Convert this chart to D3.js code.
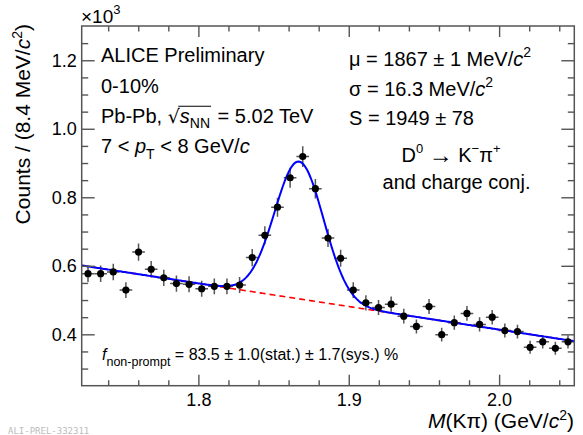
<!DOCTYPE html>
<html><head><meta charset="utf-8">
<script src="https://cdn.jsdelivr.net/npm/d3@7"></script>
<style>
body{margin:0;background:#fff;}
svg{display:block;font-family:"Liberation Sans",Arial,Helvetica,sans-serif;}
svg text{white-space:pre;}
</style>
</head><body><svg id="c" width="583" height="435"></svg>
<script>
// ---- data (counts per bin, in units of 10^3) ----
const histLow = 1.7224;      // GeV/c^2, lower edge of first bin
const binWidth = 0.0084;     // GeV/c^2
const counts = [0.577,0.577,0.582,0.529,0.640,0.590,0.565,0.548,0.546,0.533,
                0.540,0.540,0.544,0.624,0.689,0.771,0.857,0.919,0.825,0.681,
                0.622,0.529,0.492,0.478,0.488,0.453,0.423,0.481,0.399,0.434,
                0.461,0.429,0.450,0.411,0.408,0.362,0.378,0.359,0.378];
const xTicks = [1.8, 1.9, 2.0];
const yTicks = [0.4, 0.6, 0.8, 1.0, 1.2];
// fit parameters
const fitMean = 1.867, fitSigma = 0.0163, fitSignal = 1949;
const bgLowVal = 0.601, bgHighVal = 0.380;

// ---- layout ----
const W = 583, H = 435;
const L = 81.7, R = 574.3, T = 26, B = 385.7;
const nBins = counts.length;
const histHigh = histLow + nBins * binWidth;
const x = d3.scaleLinear().domain([histLow, histHigh]).range([L, R]);
const y = d3.scaleLinear().domain([0.25, 1.3]).range([B, T]);
const svg = d3.select("#c");
svg.append("rect").attr("width", W).attr("height", H).attr("fill", "#fff");

const pts = counts.map((v, i) => ({
  m: histLow + (i + 0.5) * binWidth,
  v: v,
  e: Math.sqrt(v * 1000) / 1000
}));

// fit functions
const bgSlope = (bgHighVal - bgLowVal) / (histHigh - histLow);
const bg = m => bgLowVal + bgSlope * (m - histLow);
const amp = fitSignal / 1000 * binWidth / (Math.sqrt(2 * Math.PI) * fitSigma);
const total = m => bg(m) + amp * Math.exp(-0.5 * Math.pow((m - fitMean) / fitSigma, 2));
const grid = d3.range(0, 401).map(k => histLow + (histHigh - histLow) * k / 400);

const plot = svg.append("g");
const clip = svg.append("clipPath").attr("id", "fr");
clip.append("rect").attr("x", L).attr("y", T).attr("width", R - L).attr("height", B - T);
plot.attr("clip-path", "url(#fr)");

// error bars
const eb = plot.append("g").attr("stroke", "#555").attr("stroke-width", 1.5);
eb.selectAll("line.v").data(pts).enter().append("line")
  .attr("x1", d => x(d.m)).attr("x2", d => x(d.m))
  .attr("y1", d => y(d.v - d.e)).attr("y2", d => y(d.v + d.e));
eb.selectAll("line.h").data(pts).enter().append("line")
  .attr("x1", d => x(d.m - binWidth / 2)).attr("x2", d => x(d.m + binWidth / 2))
  .attr("y1", d => y(d.v)).attr("y2", d => y(d.v));

// background (dashed red) and total fit (blue)
plot.append("path").datum(grid)
  .attr("d", d3.line().x(m => x(m)).y(m => y(bg(m))))
  .attr("fill", "none").attr("stroke", "#ff0000").attr("stroke-width", 1.6)
  .attr("stroke-dasharray", "6,4");
plot.append("path").datum(grid)
  .attr("d", d3.line().x(m => x(m)).y(m => y(total(m))))
  .attr("fill", "none").attr("stroke", "#0000ff").attr("stroke-width", 2);

// markers
plot.selectAll("circle").data(pts).enter().append("circle")
  .attr("cx", d => x(d.m)).attr("cy", d => y(d.v)).attr("r", 3.6).attr("fill", "#000");

// ---- axes ----
const axCol = "#555";
const xMinor = d3.range(1.74, 2.05, 0.02).filter(v => !xTicks.some(t => Math.abs(t - v) < 1e-6));
const yMinor = d3.range(0.3, 1.3, 0.05).filter(v => !yTicks.some(t => Math.abs(t - v) < 1e-6));

function styleAxis(g) {
  g.select(".domain").remove();
  g.selectAll("line").attr("stroke", axCol).attr("stroke-width", 1.4);
  g.selectAll("text").attr("font-size", 18).attr("fill", "#000")
    .style("font-family", '"Liberation Sans",Arial,sans-serif');
}
// bottom
svg.append("g").attr("transform", `translate(0,${B})`)
  .call(d3.axisBottom(x).tickValues(xTicks).tickFormat(d3.format(".1f")).tickSizeInner(-11).tickSizeOuter(0).tickPadding(8))
  .call(styleAxis);
svg.append("g").attr("transform", `translate(0,${B})`)
  .call(d3.axisBottom(x).tickValues(xMinor).tickFormat("").tickSizeInner(-5.5).tickSizeOuter(0))
  .call(styleAxis);
// top
svg.append("g").attr("transform", `translate(0,${T})`)
  .call(d3.axisTop(x).tickValues(xTicks).tickFormat("").tickSizeInner(-11).tickSizeOuter(0))
  .call(styleAxis);
svg.append("g").attr("transform", `translate(0,${T})`)
  .call(d3.axisTop(x).tickValues(xMinor).tickFormat("").tickSizeInner(-5.5).tickSizeOuter(0))
  .call(styleAxis);
// left
svg.append("g").attr("transform", `translate(${L},0)`)
  .call(d3.axisLeft(y).tickValues(yTicks).tickFormat(d3.format(".1f")).tickSizeInner(-13).tickSizeOuter(0).tickPadding(5))
  .call(styleAxis);
svg.append("g").attr("transform", `translate(${L},0)`)
  .call(d3.axisLeft(y).tickValues(yMinor).tickFormat("").tickSizeInner(-6.5).tickSizeOuter(0))
  .call(styleAxis);
// right
svg.append("g").attr("transform", `translate(${R},0)`)
  .call(d3.axisRight(y).tickValues(yTicks).tickFormat("").tickSizeInner(-13).tickSizeOuter(0))
  .call(styleAxis);
svg.append("g").attr("transform", `translate(${R},0)`)
  .call(d3.axisRight(y).tickValues(yMinor).tickFormat("").tickSizeInner(-6.5).tickSizeOuter(0))
  .call(styleAxis);
// frame
svg.append("rect").attr("x", L).attr("y", T).attr("width", R - L).attr("height", B - T)
  .attr("fill", "none").attr("stroke", axCol).attr("stroke-width", 1.5);

// ---- rich text helper ----
function rich(parent, px, py, parts, anchor, base) {
  const g = parent.append("g");
  let cx = 0; const placed = [];
  parts.forEach(p => {
    if (p.gap) cx += p.gap;
    if (p.t === undefined) return;
    const size = p.s || base;
    const t = g.append("text").attr("x", cx).attr("y", p.dy || 0)
      .attr("xml:space", "preserve")
      .attr("font-size", size).attr("fill", p.fill || "#000")
      .style("font-style", p.it ? "italic" : "normal").text(p.t);
    if (p.ff) t.style("font-family", p.ff);
    const w = t.node().getComputedTextLength();
    placed.push({ x0: cx, x1: cx + w, p: p, size: size });
    cx += w;
  });
  const shift = anchor === "middle" ? -cx / 2 : anchor === "end" ? -cx : 0;
  g.attr("transform", `translate(${px + shift},${py})`);
  return { g: g, placed: placed, width: cx };
}

const txt = svg.append("g");
// ×10^3
rich(txt, 81, 23, [{ t: "×10" }, { t: "3", s: 13, dy: -9 }], "start", 19);

// y title
const yt = txt.append("g").attr("transform", "translate(30,24) rotate(-90)");
rich(yt, 0, 0, [{ t: "Counts / (8.4 MeV/" }, { t: "c", it: true }, { t: "2", s: 14, dy: -8 }, { t: ")" }], "end", 21);

// x title
rich(txt, 574, 428, [{ t: "M", it: true }, { t: "(Kπ) (GeV/" }, { t: "c", it: true }, { t: "2", s: 14, dy: -8 }, { t: ")" }], "end", 21);

// left block
rich(txt, 101, 61.7, [{ t: "ALICE Preliminary" }], "start", 20);
rich(txt, 101, 92.7, [{ t: "0-10%" }], "start", 20);
const pb = rich(txt, 101, 122.7, [{ t: "Pb-Pb, " }, { t: "√", ff: '"DejaVu Sans",sans-serif', s: 19 },
  { t: "s", it: true, ol: true }, { t: "NN", s: 14, dy: 5, ol: true }, { t: " = 5.02 TeV", gap: 2 }], "start", 20);
{
  const ol = pb.placed.filter(d => d.p.ol);
  const sq = pb.placed.find(d => d.p.t === "√");
  pb.g.append("line").attr("x1", sq.x1 - 1.5).attr("x2", ol[ol.length - 1].x1 + 1)
    .attr("y1", -16.5).attr("y2", -16.5).attr("stroke", "#000").attr("stroke-width", 1.1);
}
rich(txt, 101, 152.7, [{ t: "7 < " }, { t: "p", it: true }, { t: "T", s: 14, dy: 6 }, { t: " < 8 GeV/" }, { t: "c", it: true }], "start", 20);

// right block
rich(txt, 349, 65.7, [{ t: "μ = 1867 ± 1 MeV/" }, { t: "c", it: true }, { t: "2", s: 14, dy: -9 }], "start", 20);
rich(txt, 349, 95.7, [{ t: "σ = 16.3 MeV/" }, { t: "c", it: true }, { t: "2", s: 14, dy: -9 }], "start", 20);
rich(txt, 349, 125, [{ t: "S = 1949 ± 78" }], "start", 20);
rich(txt, 451, 161.7, [{ t: "D" }, { t: "0", s: 13, dy: -9 }, { t: " " }, { t: "→", s: 24, dy: 1 }, { t: " " }, { t: "K" }, { t: "−", s: 13, dy: -9 }, { t: "π" }, { t: "+", s: 13, dy: -9 }], "middle", 20);
rich(txt, 456.5, 189, [{ t: "and charge conj." }], "middle", 20);

// f non-prompt
rich(txt, 102, 360, [{ t: "f", it: true }, { t: "non-prompt", s: 12.5, dy: 6 },
  { t: " = 83.5 ± 1.0(stat.) ± 1.7(sys.) %" }], "start", 16);

// watermark
rich(txt, 8, 433.5, [{ t: "ALI-PREL-332311", fill: "#bbb", ff: '"DejaVu Sans Mono",monospace' }], "start", 9);
</script>
</body></html>
